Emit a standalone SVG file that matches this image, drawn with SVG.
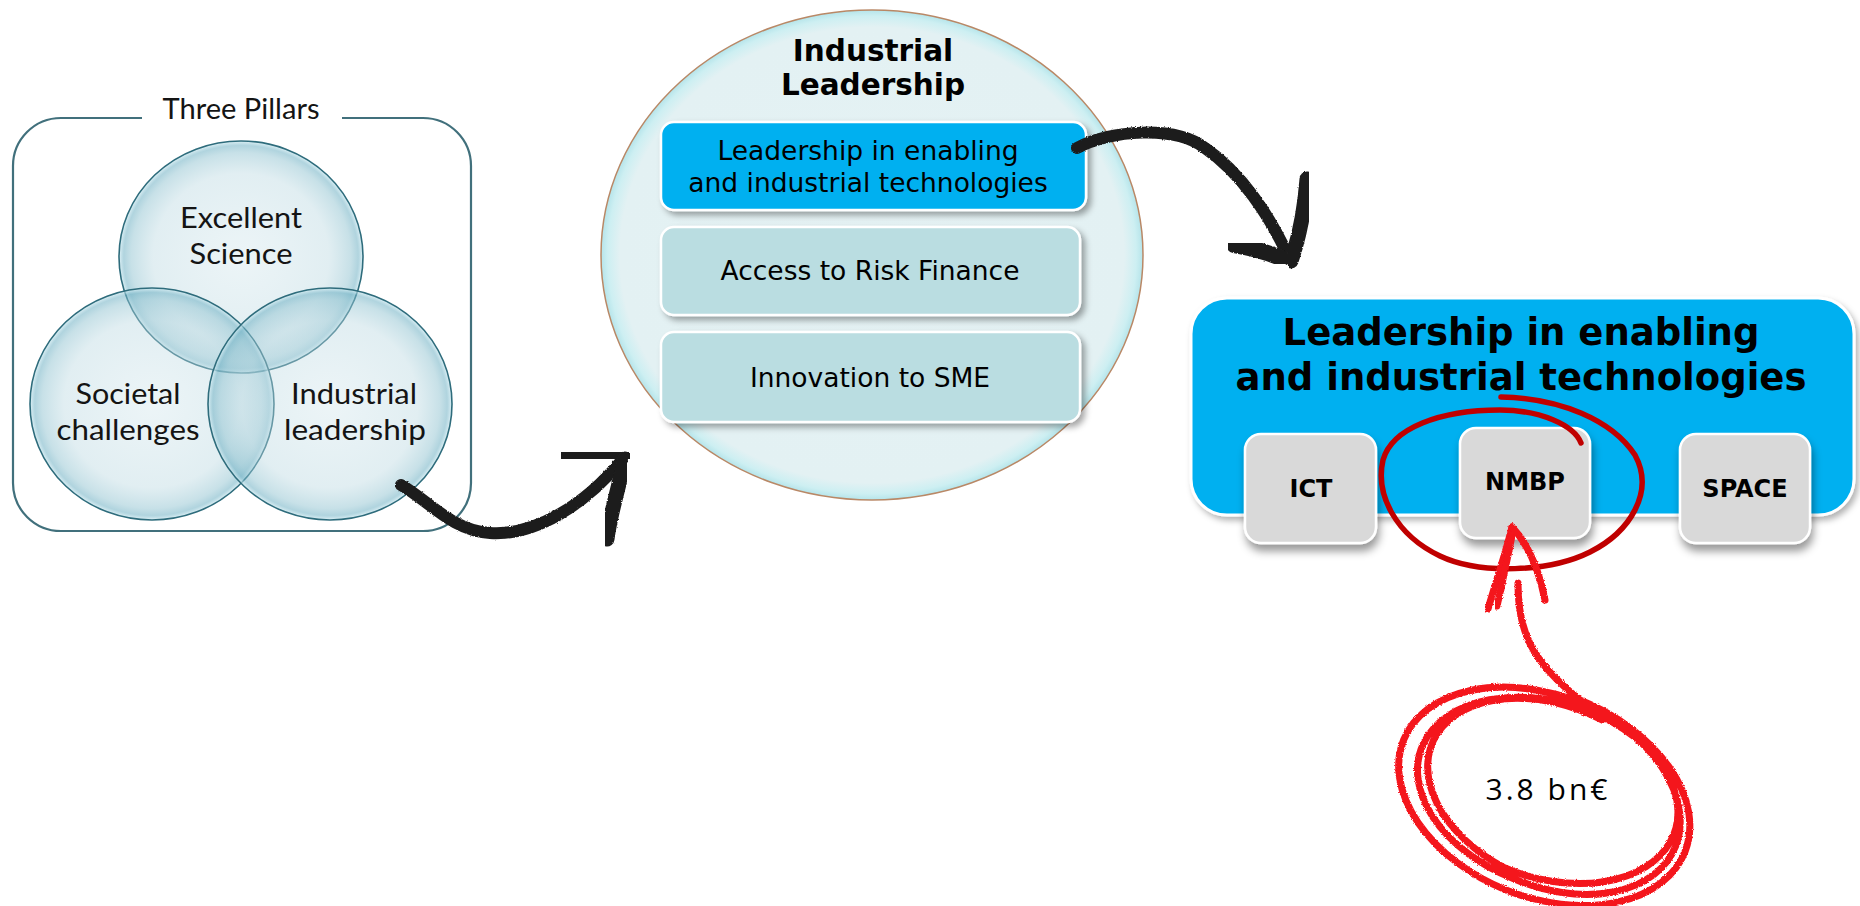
<svg xmlns="http://www.w3.org/2000/svg" width="1860" height="906" viewBox="0 0 1860 906">
  <defs>
    <style>
      .venn-label { font-family: Lato, "Liberation Sans", sans-serif; font-size: 29px; fill: #141414; text-anchor: middle; }
      .pillars-label { font-family: Lato, "Liberation Sans", sans-serif; font-size: 28px; fill: #141414; text-anchor: middle; }
      .venn { stroke: #2e6c7c; stroke-width: 1.6; fill: url(#glass); }
      .il-title { font-family: "DejaVu Sans", Verdana, sans-serif; font-weight: bold; font-size: 29.5px; fill: #000; text-anchor: middle; }
      .il-item { font-family: "DejaVu Sans", Verdana, sans-serif; font-size: 26.5px; fill: #000; text-anchor: middle; }
      .item-box { stroke: #ffffff; stroke-width: 2.5; filter: url(#softShadow); }
      .leit-title { font-family: "DejaVu Sans", Verdana, sans-serif; font-weight: bold; font-size: 37px; fill: #000; text-anchor: middle; }
      .prog-box { fill: #d9d9d9; stroke: #ffffff; stroke-width: 2.5; filter: url(#dropShadow); }
      .prog-label { font-family: "DejaVu Sans", Verdana, sans-serif; font-weight: bold; font-size: 24px; fill: #000; text-anchor: middle; }
      .brush { fill: none; stroke: #1e1e1e; stroke-linecap: round; stroke-linejoin: round; filter: url(#brushEdge); }
      .crayon { fill: none; stroke: #f4141e; stroke-width: 7; stroke-linecap: round; stroke-linejoin: round; filter: url(#crayonEdge); }
      .note { font-family: "Open Sans", "Liberation Sans", sans-serif; font-size: 30px; letter-spacing: 3px; fill: #000; text-anchor: middle; }
    </style>

    <!-- glassy fill for the three pillar circles -->
    <radialGradient id="glass" cx="50%" cy="50%" r="50%">
      <stop offset="0%" stop-color="#c9e1e8" stop-opacity="0.35"/>
      <stop offset="72%" stop-color="#b8d7e0" stop-opacity="0.42"/>
      <stop offset="90%" stop-color="#8fc2d0" stop-opacity="0.5"/>
      <stop offset="96%" stop-color="#70b1c4" stop-opacity="0.55"/>
      <stop offset="100%" stop-color="#d9f0f6" stop-opacity="0.75"/>
    </radialGradient>

    <!-- pale disc behind the Industrial Leadership list -->
    <radialGradient id="disc" cx="50%" cy="50%" r="50%">
      <stop offset="0%" stop-color="#e5f2f4"/>
      <stop offset="93%" stop-color="#e3f1f3"/>
      <stop offset="97.5%" stop-color="#cdeff2"/>
      <stop offset="100%" stop-color="#b5e4ea"/>
    </radialGradient>

    <filter id="softShadow" x="-10%" y="-20%" width="125%" height="150%">
      <feDropShadow dx="4" dy="4" stdDeviation="3" flood-color="#000" flood-opacity="0.35"/>
    </filter>
    <filter id="panelShadow" x="-10%" y="-20%" width="125%" height="150%">
      <feDropShadow dx="3" dy="4" stdDeviation="3" flood-color="#000" flood-opacity="0.3"/>
    </filter>
    <filter id="dropShadow" x="-20%" y="-20%" width="150%" height="160%">
      <feDropShadow dx="2" dy="7" stdDeviation="4" flood-color="#000" flood-opacity="0.4"/>
    </filter>

    <!-- rough edges for the hand-drawn strokes -->
    <filter id="brushEdge" x="-10%" y="-10%" width="120%" height="120%">
      <feTurbulence type="fractalNoise" baseFrequency="0.8" numOctaves="2" seed="3" result="noise"/>
      <feDisplacementMap in="SourceGraphic" in2="noise" scale="2.5" xChannelSelector="R" yChannelSelector="G" result="rough"/>
      <feGaussianBlur in="rough" stdDeviation="0.6"/>
    </filter>
    <filter id="crayonEdge" x="-10%" y="-10%" width="120%" height="120%">
      <feTurbulence type="fractalNoise" baseFrequency="1.1" numOctaves="2" seed="7" result="noise"/>
      <feDisplacementMap in="SourceGraphic" in2="noise" scale="3" xChannelSelector="R" yChannelSelector="G"/>
    </filter>
  </defs>

  <rect width="1860" height="906" fill="#ffffff"/>

  <!-- ===== Three Pillars ===== -->
  <g id="three-pillars">
    <path d="M342,118 H423 A48,48 0 0 1 471,166 V483 A48,48 0 0 1 423,531 H61 A48,48 0 0 1 13,483 V166 A48,48 0 0 1 61,118 H142"
          fill="none" stroke="#41707c" stroke-width="2.2"/>
    <text class="pillars-label" x="241" y="119" textLength="157" lengthAdjust="spacingAndGlyphs">Three Pillars</text>
  </g>

  <g id="pillar-excellent-science">
    <ellipse class="venn" cx="241" cy="257" rx="122" ry="116"/>
  </g>
  <g id="pillar-societal-challenges">
    <ellipse class="venn" cx="152" cy="404" rx="122" ry="116"/>
  </g>
  <g id="pillar-industrial-leadership">
    <ellipse class="venn" cx="330" cy="404" rx="122" ry="116"/>
  </g>

  <g id="pillar-labels">
    <text class="venn-label" x="241" y="228" textLength="122" lengthAdjust="spacingAndGlyphs">Excellent</text>
    <text class="venn-label" x="241" y="264" textLength="103" lengthAdjust="spacingAndGlyphs">Science</text>
    <text class="venn-label" x="128" y="404" textLength="105" lengthAdjust="spacingAndGlyphs">Societal</text>
    <text class="venn-label" x="128" y="440" textLength="143" lengthAdjust="spacingAndGlyphs">challenges</text>
    <text class="venn-label" x="354" y="404" textLength="126" lengthAdjust="spacingAndGlyphs">Industrial</text>
    <text class="venn-label" x="355" y="440" textLength="142" lengthAdjust="spacingAndGlyphs">leadership</text>
  </g>

  <!-- ===== Industrial Leadership ===== -->
  <g id="industrial-leadership">
    <ellipse cx="872" cy="255" rx="271" ry="245" fill="url(#disc)" stroke="#b98866" stroke-width="1.5"/>
    <text class="il-title" x="873" y="61">Industrial</text>
    <text class="il-title" x="873" y="95">Leadership</text>
  </g>

  <g id="item-leit">
    <rect class="item-box" x="661" y="122" width="425" height="88" rx="13" fill="#00b0f0"/>
    <text class="il-item" x="868" y="160">Leadership in enabling</text>
    <text class="il-item" x="868" y="192">and industrial technologies</text>
  </g>
  <g id="item-risk-finance">
    <rect class="item-box" x="661" y="227" width="419" height="88" rx="13" fill="#badde1"/>
    <text class="il-item" x="870" y="280">Access to Risk Finance</text>
  </g>
  <g id="item-sme">
    <rect class="item-box" x="661" y="332" width="419" height="90" rx="13" fill="#badde1"/>
    <text class="il-item" x="870" y="387">Innovation to SME</text>
  </g>

  <!-- ===== Leadership in enabling and industrial technologies ===== -->
  <g id="leit-panel">
    <rect x="1191" y="298" width="663" height="217" rx="36" fill="#00b0f0" stroke="#ffffff" stroke-width="3" filter="url(#panelShadow)"/>
    <text class="leit-title" x="1521" y="345">Leadership in enabling</text>
    <text class="leit-title" x="1521" y="390">and industrial technologies</text>
  </g>

  <g id="prog-ict">
    <rect class="prog-box" x="1245" y="434" width="131" height="109" rx="16" stroke="#b4b4b4"/>
    <text class="prog-label" x="1311" y="497">ICT</text>
  </g>
  <g id="prog-nmbp">
    <rect class="prog-box" x="1460" y="428" width="130" height="110" rx="16"/>
    <text class="prog-label" x="1525" y="490">NMBP</text>
  </g>
  <g id="prog-space">
    <rect class="prog-box" x="1680" y="434" width="130" height="109" rx="16"/>
    <text class="prog-label" x="1745" y="497">SPACE</text>
  </g>

  <g id="budget-note">
    <text class="note" x="1548" y="800">3.8 bn€</text>
  </g>

  <!-- ===== Connectors ===== -->
  <g id="connectors">
    <!-- Three Pillars -> Industrial Leadership -->
    <path class="brush" stroke-width="12" d="M401,485 C428,500 452,531 490,533 C535,536 585,505 622,460"/>
    <path class="brush" stroke-width="16" d="M567,455 C585,451 606,453 624,458"/>
    <path class="brush" stroke-width="15" d="M625,459 C618,490 610,515 607,539"/>

    <!-- Industrial Leadership -> LEIT -->
    <path class="brush" stroke-width="12" d="M1077,148 C1110,130 1175,125 1205,148 C1240,172 1270,215 1290,260"/>
    <path class="brush" stroke-width="16" d="M1234,245 C1255,248 1275,255 1290,262"/>
    <path class="brush" stroke-width="15" d="M1291,261 C1300,235 1305,205 1307,179"/>

    <!-- NMBP highlight -->
    <path d="M1501,397 C1560,398 1612,420 1635,455 C1655,492 1630,532 1590,552 C1550,572 1480,575 1440,556 C1396,535 1375,495 1383,460 C1392,428 1440,410 1500,410 C1540,410 1574,425 1581,443"
          fill="none" stroke="#c00000" stroke-width="5.5" stroke-linecap="round"/>

    <!-- budget arrow pointing at NMBP -->
    <path class="crayon" d="M1488,609 C1495,585 1505,555 1512,527"/>
    <path class="crayon" d="M1497,606 C1502,585 1508,555 1513,531"/>
    <path class="crayon" d="M1512,527 C1526,542 1538,565 1545,600"/>
    <path class="crayon" d="M1518,583 C1518,630 1530,660 1580,700
                            A150,100 22 0 1 1506,890 A150,100 22 0 1 1582,703
                            A140,94 25 0 1 1512,878 A136,90 19 0 1 1592,712
                            A128,85 18 0 1 1505,868 A126,84 23 0 1 1602,720"/>
  </g>
</svg>
